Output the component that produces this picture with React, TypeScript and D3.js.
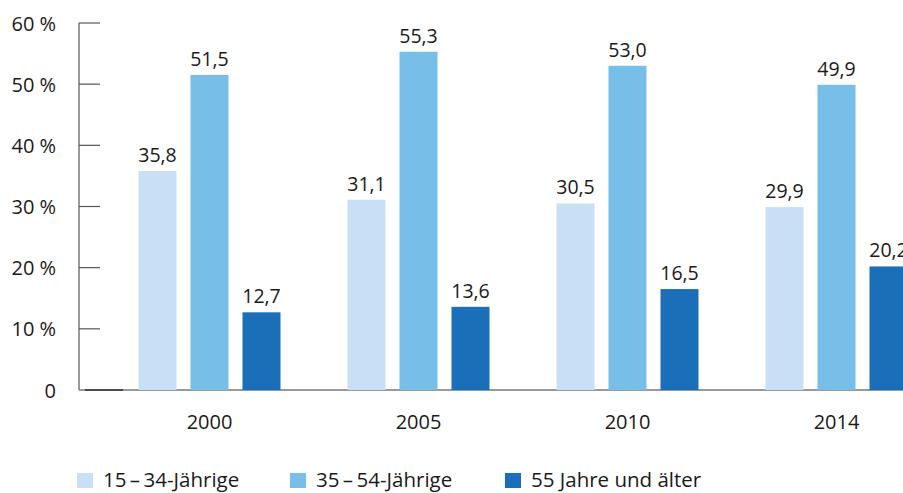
import React, { useEffect, useRef } from 'react';
import * as d3 from 'd3';

const years = ['2000', '2005', '2010', '2014'];
const series = ['15\u2009\u2013\u200934-Jährige', '35\u2009\u2013\u200954-Jährige', '55 Jahre und älter'];
const young = [35.8, 31.1, 30.5, 29.9];
const middle = [51.5, 55.3, 53.0, 49.9];
const older = [12.7, 13.6, 16.5, 20.2];
const yTicks = [0, 10, 20, 30, 40, 50, 60];
const colors = ['#c9dff5', '#77bee9', '#1b6fb8'];

const App: React.FC = () => {
  const svgRef = useRef<SVGSVGElement>(null);

  useEffect(() => {
    if (!svgRef.current) return;
    const svg = d3.select(svgRef.current);
    svg.selectAll('*').remove();

    const font = "'Open Sans', sans-serif";
    const ink = '#1a1a1a';
    const values = [young, middle, older];

    const y = d3.scaleLinear().domain([0, 60]).range([390, 23]);
    const x0 = d3.scaleBand<string>().domain(years).range([105, 941]);
    const x1 = d3.scaleBand<number>().domain([0, 1, 2]).range([0, 142]).paddingInner(14 / 52);

    // axis
    svg.append('line')
      .attr('x1', 79).attr('x2', 79).attr('y1', y(60)).attr('y2', y(0))
      .attr('stroke', '#555').attr('stroke-width', 1.2);
    svg.append('line')
      .attr('x1', 79).attr('x2', 903).attr('y1', y(0)).attr('y2', y(0))
      .attr('stroke', '#777').attr('stroke-width', 1.4);
    svg.append('line')
      .attr('x1', 85).attr('x2', 123).attr('y1', y(0)).attr('y2', y(0))
      .attr('stroke', '#333').attr('stroke-width', 1.4);

    yTicks.forEach(t => {
      if (t > 0) {
        svg.append('line')
          .attr('x1', 79).attr('x2', 100).attr('y1', y(t)).attr('y2', y(t))
          .attr('stroke', '#555').attr('stroke-width', 1.2);
      }
      svg.append('text')
        .attr('x', 56).attr('y', y(t) + 7.5)
        .attr('text-anchor', 'end')
        .attr('font-family', font).attr('font-size', 20).attr('fill', ink)
        .text(t === 0 ? '0' : `${t}\u2005%`);
    });

    years.forEach((yr, i) => {
      const cx = (x0(yr) || 0) + x0.bandwidth() / 2;
      const gx = cx - 71;
      values.forEach((vals, s) => {
        const bx = gx + (x1(s) || 0);
        svg.append('rect')
          .attr('x', bx).attr('y', y(vals[i]))
          .attr('width', x1.bandwidth()).attr('height', y(0) - y(vals[i]))
          .attr('fill', colors[s]);
        svg.append('text')
          .attr('x', bx + x1.bandwidth() / 2).attr('y', y(vals[i]) - 9)
          .attr('text-anchor', 'middle')
          .attr('font-family', font).attr('font-size', 19.5).attr('fill', ink)
          .text(vals[i].toFixed(1).replace('.', ','));
      });
      svg.append('text')
        .attr('x', cx).attr('y', 429)
        .attr('text-anchor', 'middle')
        .attr('font-family', font).attr('font-size', 20).attr('fill', ink)
        .text(yr);
    });

    // legend
    const legendX = [77, 290, 505];
    series.forEach((name, s) => {
      svg.append('rect')
        .attr('x', legendX[s]).attr('y', 473)
        .attr('width', 16).attr('height', 15)
        .attr('fill', colors[s]);
      svg.append('text')
        .attr('x', legendX[s] + 26).attr('y', 487)
        .attr('font-family', font).attr('font-size', 20.5).attr('fill', ink)
        .text(name);
    });
  }, []);

  return (
    <div style={{ position: 'absolute', left: 0, top: 0, width: 903, height: 493, background: '#fff' }}>
      <svg ref={svgRef} width={903} height={493} style={{ display: 'block' }} />
    </div>
  );
};

export default App;
